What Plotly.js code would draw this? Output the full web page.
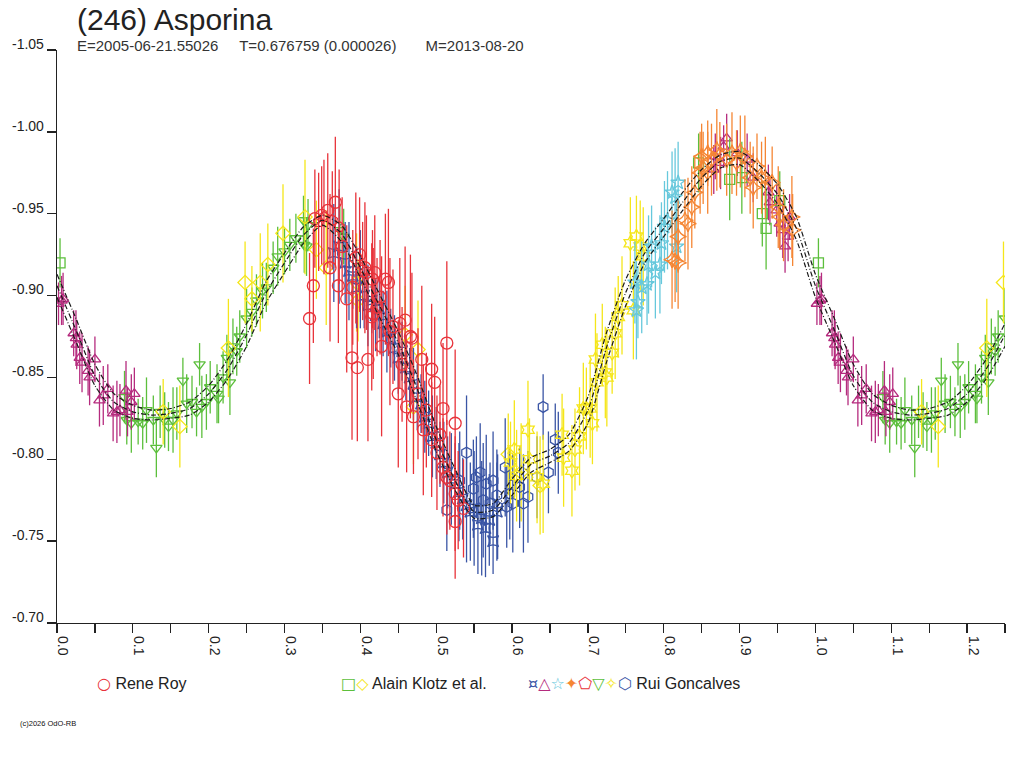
<!DOCTYPE html>
<html>
<head>
<meta charset="utf-8">
<script src="https://cdn.plot.ly/plotly-3.0.1.min.js"></script>
<style>
  body { margin: 0; background: #fff; }
  #lightcurve { width: 1024px; height: 768px; }
</style>
</head>
<body>
<div id="lightcurve"></div>
<script>
// Rene Roy (red circles)
let royPhase = [0.333,0.338,0.340,0.349,0.357,0.360,0.367,0.371,0.376,0.382,0.389,0.394,0.396,0.399,0.403,0.406,0.408,0.410,0.415,0.416,0.417,0.419,0.426,0.428,0.433,0.437,0.439,0.443,0.450,0.452,0.459,0.461,0.466,0.468,0.470,0.476,0.481,0.483,0.494,0.494,0.498,0.501,0.509,0.509,0.514,0.514,0.518,0.525,0.525,0.529,0.536,0.525,0.390,0.422,0.455,0.487,0.505];
let royMag = [-0.886,-0.906,-0.947,-0.949,-0.952,-0.917,-0.957,-0.906,-0.930,-0.898,-0.862,-0.923,-0.856,-0.925,-0.915,-0.917,-0.914,-0.861,-0.887,-0.910,-0.889,-0.914,-0.899,-0.869,-0.910,-0.908,-0.878,-0.881,-0.840,-0.883,-0.885,-0.832,-0.875,-0.874,-0.826,-0.840,-0.861,-0.818,-0.855,-0.812,-0.847,-0.804,-0.831,-0.795,-0.871,-0.789,-0.787,-0.822,-0.779,-0.775,-0.770,-0.762,-0.905,-0.893,-0.858,-0.830,-0.815];
let royErr = [0.040,0.035,0.030,0.030,0.035,0.045,0.040,0.035,0.030,0.045,0.050,0.040,0.045,0.035,0.030,0.040,0.035,0.050,0.045,0.030,0.040,0.035,0.035,0.055,0.040,0.045,0.045,0.035,0.045,0.040,0.045,0.040,0.050,0.040,0.035,0.040,0.045,0.040,0.040,0.035,0.040,0.035,0.040,0.030,0.050,0.035,0.030,0.045,0.035,0.030,0.030,0.035,0.035,0.030,0.035,0.035,0.030];

// Alain Klotz et al. (green squares, yellow diamonds)
let klotzSqPhase = [0.004,0.846,0.887,0.903,0.930,0.935,0.953];
let klotzSqMag = [-0.920,-0.981,-0.971,-0.972,-0.950,-0.941,-0.958];
let klotzSqErr = [0.015,0.018,0.025,0.022,0.020,0.025,0.018];

let klotzDiPhase = [0.140,0.162,0.226,0.248,0.257,0.268,0.278,0.298,0.327,0.342,0.355,0.395,0.397,0.459,0.470,0.476,0.595,0.612,0.637];
let klotzDiMag = [-0.829,-0.820,-0.868,-0.908,-0.898,-0.908,-0.919,-0.938,-0.948,-0.928,-0.917,-0.908,-0.897,-0.876,-0.832,-0.867,-0.803,-0.792,-0.784];
let klotzDiErr = [0.020,0.025,0.030,0.025,0.020,0.030,0.025,0.030,0.035,0.030,0.035,0.030,0.025,0.030,0.035,0.030,0.025,0.030,0.030];

// Rui Goncalves, one set per night
let ruiAPhase = [0.365,0.372,0.380,0.385,0.390,0.395,0.400,0.405,0.410,0.415,0.420,0.425,0.430,0.435,0.440,0.445,0.450,0.455,0.460,0.465,0.470,0.475,0.480,0.485,0.490,0.495,0.500,0.505,0.510,0.515,0.520,0.525,0.530,0.535,0.540,0.545,0.550,0.555,0.560,0.565,0.570,0.575,0.580];
let ruiAMag = [-0.926,-0.930,-0.920,-0.915,-0.912,-0.905,-0.910,-0.900,-0.894,-0.897,-0.888,-0.892,-0.883,-0.878,-0.874,-0.868,-0.862,-0.866,-0.856,-0.850,-0.846,-0.838,-0.834,-0.826,-0.822,-0.814,-0.810,-0.803,-0.798,-0.792,-0.788,-0.785,-0.780,-0.776,-0.772,-0.768,-0.770,-0.760,-0.764,-0.758,-0.763,-0.750,-0.768];
let ruiAErr = [0.030,0.035,0.025,0.030,0.020,0.025,0.030,0.020,0.025,0.020,0.022,0.018,0.020,0.025,0.018,0.020,0.022,0.018,0.020,0.018,0.022,0.020,0.018,0.022,0.020,0.025,0.022,0.020,0.025,0.022,0.028,0.025,0.030,0.025,0.035,0.030,0.035,0.030,0.035,0.030,0.028,0.020,0.030];

let ruiBPhase = [0.002,0.006,0.008,0.022,0.025,0.026,0.030,0.033,0.041,0.043,0.050,0.056,0.061,0.067,0.074,0.079,0.083,0.091,0.093,0.098,0.102,0.866,0.868,0.875,0.879,0.883,0.897,0.910,0.918,0.938,0.940,0.949,0.953,0.957,0.960,0.964,0.966];
let ruiBMag = [-0.895,-0.897,-0.898,-0.877,-0.874,-0.870,-0.862,-0.859,-0.854,-0.850,-0.861,-0.836,-0.839,-0.843,-0.828,-0.829,-0.830,-0.842,-0.829,-0.835,-0.840,-0.977,-0.985,-0.981,-0.991,-0.996,-0.987,-0.983,-0.972,-0.963,-0.957,-0.952,-0.944,-0.940,-0.930,-0.936,-0.948];
let ruiBErr = [0.013,0.015,0.016,0.014,0.017,0.015,0.016,0.018,0.015,0.017,0.014,0.016,0.018,0.015,0.017,0.019,0.016,0.018,0.015,0.017,0.016,0.015,0.014,0.016,0.013,0.015,0.014,0.016,0.015,0.017,0.014,0.016,0.015,0.017,0.016,0.015,0.014];

let ruiCPhase = [0.762,0.764,0.766,0.771,0.778,0.780,0.784,0.789,0.795,0.797,0.801,0.805,0.811,0.815,0.817,0.819];
let ruiCMag = [-0.908,-0.891,-0.896,-0.905,-0.907,-0.919,-0.930,-0.914,-0.919,-0.932,-0.942,-0.946,-0.963,-0.960,-0.930,-0.969];
let ruiCErr = [0.025,0.030,0.022,0.028,0.025,0.030,0.025,0.028,0.030,0.025,0.028,0.030,0.025,0.030,0.028,0.025];

let ruiDPhase = [0.811,0.815,0.819,0.819,0.828,0.832,0.837,0.841,0.848,0.850,0.852,0.858,0.858,0.863,0.870,0.874,0.883,0.890,0.896,0.901,0.907,0.914,0.918,0.923,0.929,0.934,0.943,0.951,0.953,0.958,0.969,0.970];
let ruiDMag = [-0.922,-0.921,-0.920,-0.936,-0.946,-0.944,-0.954,-0.963,-0.975,-0.985,-0.978,-0.975,-0.987,-0.983,-0.989,-0.986,-0.983,-0.987,-0.981,-0.988,-0.985,-0.972,-0.966,-0.979,-0.972,-0.972,-0.969,-0.954,-0.948,-0.943,-0.948,-0.940];
let ruiDErr = [0.030,0.025,0.028,0.022,0.025,0.028,0.025,0.022,0.025,0.020,0.022,0.025,0.020,0.022,0.025,0.020,0.022,0.025,0.020,0.022,0.025,0.022,0.025,0.020,0.022,0.025,0.022,0.025,0.020,0.022,0.025,0.022];

let ruiEPhase = [0.345,0.352,0.363,0.372];
let ruiEMag = [-0.945,-0.948,-0.946,-0.942];
let ruiEErr = [0.030,0.035,0.030,0.035];

let ruiFPhase = [0.089,0.092,0.098,0.107,0.113,0.118,0.127,0.131,0.136,0.142,0.147,0.153,0.158,0.166,0.171,0.178,0.184,0.188,0.191,0.197,0.202,0.211,0.213,0.219,0.224,0.228,0.232,0.237,0.241,0.250,0.257,0.263,0.271,0.276,0.285,0.291,0.300,0.307,0.315,0.326,0.331,0.325,0.329,0.373,0.378];
let ruiFMag = [-0.838,-0.824,-0.822,-0.823,-0.822,-0.830,-0.824,-0.807,-0.829,-0.824,-0.820,-0.824,-0.828,-0.848,-0.834,-0.835,-0.829,-0.858,-0.832,-0.835,-0.844,-0.840,-0.837,-0.850,-0.862,-0.847,-0.869,-0.866,-0.875,-0.886,-0.890,-0.897,-0.903,-0.905,-0.917,-0.924,-0.927,-0.931,-0.935,-0.931,-0.943,-0.946,-0.930,-0.940,-0.936];
let ruiFErr = [0.016,0.015,0.018,0.014,0.016,0.020,0.015,0.018,0.016,0.017,0.015,0.020,0.016,0.014,0.018,0.016,0.015,0.013,0.019,0.017,0.016,0.018,0.015,0.016,0.014,0.020,0.017,0.015,0.016,0.018,0.015,0.016,0.017,0.015,0.016,0.018,0.014,0.016,0.015,0.017,0.016,0.015,0.018,0.016,0.017];

let ruiGPhase = [0.603,0.598,0.606,0.621,0.623,0.633,0.641,0.666,0.668,0.679,0.683,0.689,0.694,0.698,0.703,0.706,0.710,0.712,0.719,0.723,0.725,0.732,0.736,0.740,0.745,0.756,0.760,0.764,0.769,0.773];
let ruiGMag = [-0.806,-0.798,-0.790,-0.818,-0.800,-0.789,-0.785,-0.815,-0.801,-0.793,-0.806,-0.814,-0.831,-0.831,-0.831,-0.822,-0.861,-0.847,-0.870,-0.853,-0.850,-0.865,-0.877,-0.887,-0.894,-0.932,-0.891,-0.936,-0.930,-0.924];
let ruiGErr = [0.030,0.025,0.028,0.030,0.025,0.028,0.030,0.025,0.030,0.028,0.025,0.030,0.028,0.025,0.030,0.025,0.028,0.030,0.025,0.028,0.030,0.025,0.028,0.025,0.030,0.028,0.030,0.025,0.028,0.030];

let ruiHPhase = [0.514,0.531,0.540,0.549,0.553,0.558,0.562,0.566,0.571,0.575,0.580,0.581,0.591,0.593,0.597,0.601,0.610,0.615,0.621,0.633,0.641,0.648,0.657,0.661];
let ruiHMag = [-0.769,-0.787,-0.804,-0.782,-0.789,-0.792,-0.775,-0.785,-0.773,-0.787,-0.778,-0.771,-0.795,-0.771,-0.779,-0.773,-0.783,-0.773,-0.777,-0.789,-0.832,-0.792,-0.812,-0.804];
let ruiHErr = [0.025,0.030,0.035,0.030,0.025,0.030,0.035,0.030,0.025,0.030,0.028,0.032,0.030,0.025,0.028,0.030,0.025,0.030,0.028,0.025,0.020,0.025,0.022,0.025];

// fourier fit and its two bounds, one period
let fitPhase = [0.000,0.025,0.050,0.075,0.100,0.125,0.150,0.175,0.200,0.225,0.250,0.275,0.300,0.325,0.350,0.375,0.400,0.425,0.450,0.475,0.500,0.525,0.550,0.575,0.600,0.625,0.650,0.675,0.700,0.725,0.750,0.775,0.800,0.825,0.850,0.875,0.900,0.925,0.950,0.975,1.000];
let fitMid = [-0.906,-0.879,-0.851,-0.835,-0.829,-0.827,-0.828,-0.831,-0.840,-0.855,-0.876,-0.901,-0.920,-0.937,-0.946,-0.938,-0.917,-0.894,-0.871,-0.843,-0.812,-0.787,-0.768,-0.769,-0.783,-0.797,-0.802,-0.810,-0.830,-0.869,-0.902,-0.926,-0.941,-0.957,-0.972,-0.982,-0.984,-0.975,-0.962,-0.941,-0.906];
let fitHi = [-0.913,-0.886,-0.858,-0.840,-0.833,-0.830,-0.831,-0.835,-0.845,-0.861,-0.883,-0.908,-0.926,-0.942,-0.949,-0.943,-0.924,-0.901,-0.878,-0.851,-0.820,-0.794,-0.772,-0.773,-0.788,-0.801,-0.806,-0.815,-0.838,-0.878,-0.910,-0.932,-0.947,-0.963,-0.977,-0.986,-0.988,-0.980,-0.968,-0.948,-0.913];
let fitLo = [-0.899,-0.872,-0.845,-0.830,-0.825,-0.824,-0.825,-0.827,-0.835,-0.849,-0.869,-0.895,-0.914,-0.932,-0.943,-0.933,-0.911,-0.887,-0.864,-0.835,-0.805,-0.781,-0.764,-0.765,-0.778,-0.792,-0.798,-0.805,-0.822,-0.860,-0.894,-0.920,-0.936,-0.952,-0.967,-0.978,-0.980,-0.970,-0.956,-0.934,-0.899];

let xTickVals = [0,0.1,0.2,0.3,0.4,0.5,0.6,0.7,0.8,0.9,1.0,1.1,1.2];
let yTickVals = [-1.05,-1.00,-0.95,-0.90,-0.85,-0.80,-0.75,-0.70];
let yTickText = ['-1.05','-1.00','-0.95','-0.90','-0.85','-0.80','-0.75','-0.70'];

const RED = '#e8333a', GREEN = '#5cbf3c', YELLOW = '#f5e61a', BLUE = '#3a55a5',
      MAGENTA = '#b52b7e', CYAN = '#66c8dc', ORANGE = '#f58634';
const FONT = 'Liberation Sans, Arial, sans-serif';

// the plot shows phase 0..1.25, so the first quarter is drawn again after 1.0
function wrapPhase (ph, mg, er){
  let x = ph.slice(), y = mg.slice(), e = er ? er.slice() : null;
  for (let i = 0; i < ph.length; i++){
    if (ph[i] > 0 && ph[i] <= 0.25){
      x.push(ph[i] + 1);
      y.push(mg[i]);
      if (e) e.push(er[i]);
    }
  }
  return {x: x, y: y, e: e};
}

function pointTrace (ph, mg, er, symbol, color, size){
  let w = wrapPhase(ph, mg, er);
  return {
    x: w.x, y: w.y,
    type: 'scatter', mode: 'markers',
    marker: { symbol: symbol, size: size, color: color, line: { color: color, width: 1.3 } },
    error_y: { type: 'data', array: w.e, visible: true, width: 0, thickness: 1.3, color: color }
  };
}

function fitTrace (ph, mg){
  let w = wrapPhase(ph, mg);
  return {
    x: w.x, y: w.y,
    type: 'scatter', mode: 'lines',
    line: { color: '#1a1a1a', width: 1.2, dash: '5px,2px,1px,2px', shape: 'spline', smoothing: 0.6 }
  };
}

let data = [
  pointTrace(ruiFPhase, ruiFMag, ruiFErr, 'triangle-down-open', GREEN, 10),
  pointTrace(ruiBPhase, ruiBMag, ruiBErr, 'triangle-up-open', MAGENTA, 10),
  pointTrace(klotzDiPhase, klotzDiMag, klotzDiErr, 'diamond-open', YELLOW, 11),
  pointTrace(klotzSqPhase, klotzSqMag, klotzSqErr, 'square-open', GREEN, 10),
  pointTrace(ruiAPhase, ruiAMag, ruiAErr, 'star-square-open', BLUE, 10),
  pointTrace(ruiHPhase, ruiHMag, ruiHErr, 'hexagon-open', BLUE, 11),
  pointTrace(ruiGPhase, ruiGMag, ruiGErr, 'hexagram-open', YELLOW, 11),
  pointTrace(ruiCPhase, ruiCMag, ruiCErr, 'star-open', CYAN, 11),
  pointTrace(ruiDPhase, ruiDMag, ruiDErr, 'star-diamond-open', ORANGE, 12),
  pointTrace(ruiEPhase, ruiEMag, ruiEErr, 'pentagon-open', RED, 11),
  pointTrace(royPhase, royMag, royErr, 'circle-open', RED, 12),
  fitTrace(fitPhase, fitHi),
  fitTrace(fitPhase, fitMid),
  fitTrace(fitPhase, fitLo)
];

let sym = (c, s) => `<span style="color:${c};font-family:'DejaVu Sans'">${s}</span>`;
let legendY = -0.105;

let layout = {
  width: 1024, height: 768,
  margin: { l: 57, r: 19, t: 50, b: 145 },
  paper_bgcolor: '#fff', plot_bgcolor: '#fff',
  showlegend: false, hovermode: false,
  font: { family: FONT, size: 14, color: '#222' },
  xaxis: {
    range: [0, 1.25], tickvals: xTickVals, tickformat: '.1f',
    ticks: 'outside', ticklen: 9, tickwidth: 1.3, tickcolor: '#222',
    minor: { dtick: 0.05, tick0: 0, ticks: 'outside', ticklen: 9, tickwidth: 1.3, tickcolor: '#222', showgrid: false },
    tickangle: 90, ticklabelshift: 6,
    showline: true, linecolor: '#222', linewidth: 1.3,
    showgrid: false, zeroline: false,
    tickfont: { family: FONT, size: 14, color: '#222' }
  },
  yaxis: {
    range: [-0.70, -1.05], tickvals: yTickVals, ticktext: yTickText,
    ticks: 'outside', ticklen: 9, tickwidth: 1.3, tickcolor: '#222',
    ticklabelshift: 6, ticklabelstandoff: 0,
    showline: true, linecolor: '#222', linewidth: 1.3,
    showgrid: false, zeroline: false,
    tickfont: { family: FONT, size: 14, color: '#222' }
  },
  annotations: [
    { text: '(246) Asporina', xref: 'paper', yref: 'paper', x: 0.019, y: 1.054,
      xanchor: 'left', yanchor: 'middle', showarrow: false,
      font: { family: FONT, size: 30, color: '#222' } },
    { text: 'E=2005-06-21.55026\u00a0\u00a0\u00a0\u00a0\u00a0T=0.676759 (0.000026)\u00a0\u00a0\u00a0\u00a0\u00a0\u00a0\u00a0M=2013-08-20',
      xref: 'paper', yref: 'paper', x: 0.019, y: 1.008,
      xanchor: 'left', yanchor: 'middle', showarrow: false,
      font: { family: FONT, size: 15, color: '#333' } },
    { text: sym(RED, '○') + ' Rene Roy', xref: 'paper', yref: 'paper', x: 0.040, y: legendY,
      xanchor: 'left', yanchor: 'middle', showarrow: false,
      font: { family: FONT, size: 16, color: '#222' } },
    { text: sym(GREEN, '□') + sym(YELLOW, '◇') + ' Alain Klotz et al.', xref: 'paper', yref: 'paper', x: 0.297, y: legendY,
      xanchor: 'left', yanchor: 'middle', showarrow: false,
      font: { family: FONT, size: 16, color: '#222' } },
    { text: sym(BLUE, '¤') + sym(MAGENTA, '△') + sym(CYAN, '☆') + sym(ORANGE, '✦') + sym(RED, '⬠') +
            sym(GREEN, '▽') + sym(YELLOW, '✧') + sym(BLUE, '⬡') + ' Rui Goncalves',
      xref: 'paper', yref: 'paper', x: 0.495, y: legendY,
      xanchor: 'left', yanchor: 'middle', showarrow: false,
      font: { family: FONT, size: 16, color: '#222' } },
    { text: '(c)2026 OdO-RB', xref: 'paper', yref: 'paper', x: -0.041, y: -0.175,
      xanchor: 'left', yanchor: 'middle', showarrow: false,
      font: { family: FONT, size: 7.5, color: '#111' } }
  ]
};

let config = { staticPlot: true, displayModeBar: false };

Plotly.newPlot('lightcurve', data, layout, config);
</script>
</body>
</html>
